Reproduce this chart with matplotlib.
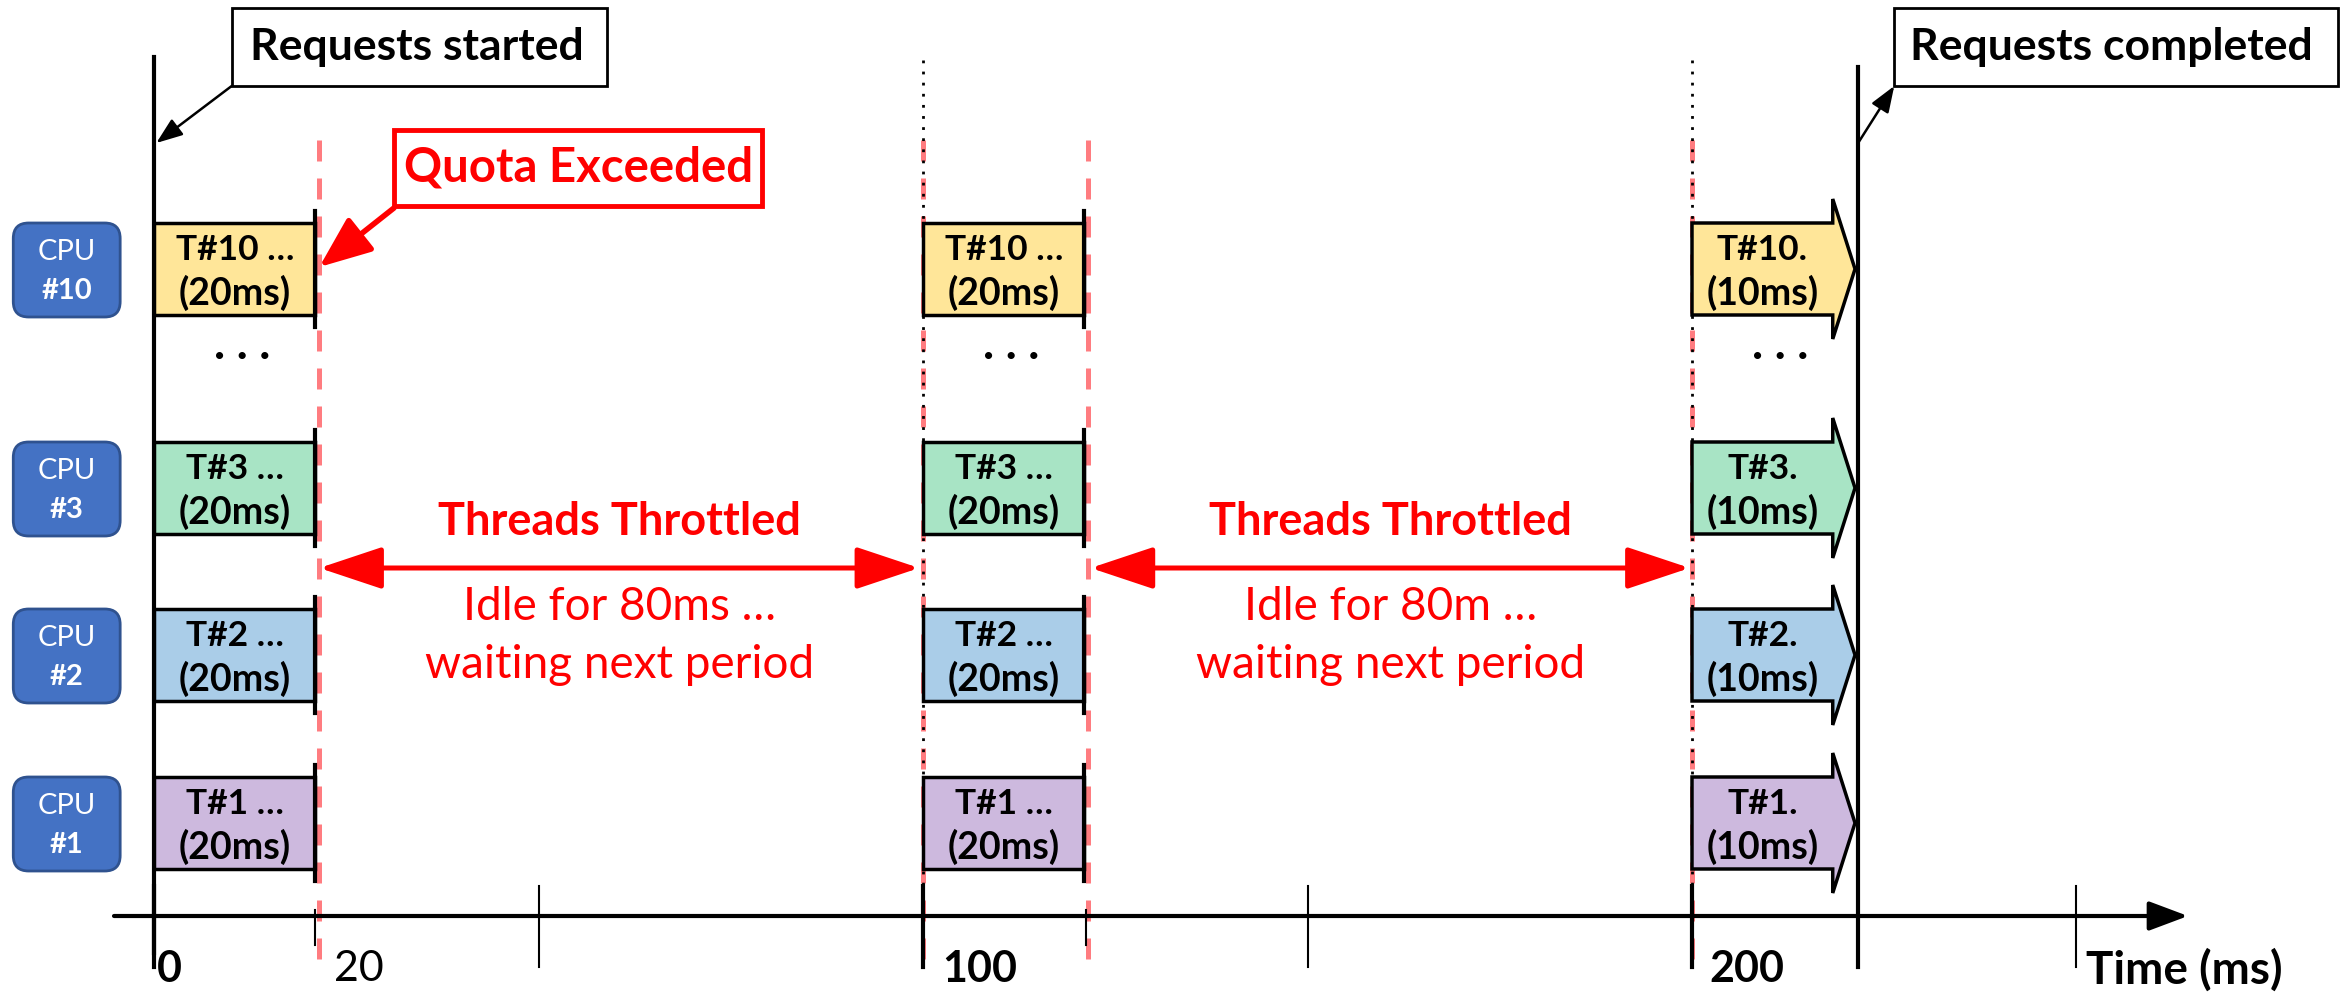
import matplotlib.pyplot as plt
from matplotlib.patches import Rectangle, FancyBboxPatch, Polygon, FancyArrowPatch

plt.rcParams['font.family'] = ['Lato', 'DejaVu Sans']

# ---- data ----
cpu_names = ['#10', '#3', '#2', '#1']
thread_names = ['T#10', 'T#3', 'T#2', 'T#1']
thread_colors = ['#FFE699', '#A8E4C5', '#AACDE8', '#CDB9DE']
period_starts = [0, 100, 200]
run_labels = ['(20ms)', '(20ms)', '(10ms)']
name_suffix = [' \u2026', ' \u2026', '.']
drawn_width = [21, 21, 18.3]         # width of body as drawn (ms)
quota_lines = [21.5, 121.5]
idle_labels = ['Idle for 80ms \u2026', 'Idle for 80m \u2026']
throttle_spans = [(21.5, 99.5), (121.8, 199.7)]
major_ticks = [0, 100, 200]
minor_ticks = [50, 150, 250]
small_ticks = [20.9, 121.2]
tick_labels = ['0', '20', '100', '200']
tick_label_pos = [0.4, 23.4, 102.5, 202.2]
tick_label_bold = [True, False, True, True]
start_ms = 0
end_ms = 221.6

# ---- layout (y in pixels from top, x in ms) ----
PX = 7.69                   # pixels per ms
X0 = 154                    # pixel of t=0
W, H = 2351, 992
row_tops = [223, 442, 609, 777]
row_h = 92
axis_y = 916
RED = '#FF0000'
PINK = '#FF7C80'

fig = plt.figure(figsize=(W / 100, H / 100), dpi=100)
ax = fig.add_axes([0, 0, 1, 1])
ax.set_xlim(-X0 / PX, (W - X0) / PX)
ax.set_ylim(H, 0)
ax.axis('off')

# vertical guide lines
for q in quota_lines + [100, 200]:
    ax.plot([q, q], [140, 965], color=PINK, lw=3.6, ls=(0, (4.2, 3.4)), zorder=1)
for p in period_starts[1:]:
    ax.plot([p, p], [60, 963], color='black', lw=2, ls=(0, (1, 3)), zorder=2)
ax.plot([start_ms, start_ms], [57, 953], color='black', lw=3, zorder=4)
ax.plot([end_ms, end_ms], [67, 967], color='black', lw=3, zorder=4)

# time axis
ax.annotate('', xy=(264.5, axis_y), xytext=(-5.2, axis_y),
            arrowprops=dict(arrowstyle='-|>,head_length=2.4,head_width=0.9',
                            mutation_scale=10, lw=3, color='black',
                            shrinkA=0, shrinkB=0))
for t in major_ticks:
    ax.plot([t, t], [886, 967], color='black', lw=3, zorder=4)
for t in minor_ticks:
    ax.plot([t, t], [886, 967], color='black', lw=1.5, zorder=4)
for t in small_ticks:
    ax.plot([t, t], [910, 945], color='black', lw=1.5, zorder=4)
for lab, x, b in zip(tick_labels, tick_label_pos, tick_label_bold):
    ax.text(x, 969, lab, ha='left', va='center', fontsize=31,
            fontweight='bold' if b else 'normal')
ax.text(251.2, 970, 'Time (ms)', ha='left', va='center', fontsize=33,
        fontweight='bold')

# CPU labels
for name, top in zip(cpu_names, row_tops):
    box = FancyBboxPatch((-18.3, top), 13.9, row_h + 2,
                         boxstyle='round,pad=0,rounding_size=2',
                         mutation_aspect=PX, fc='#4472C4', ec='#2F528F',
                         lw=2, zorder=3)
    ax.add_patch(box)
    ax.text(-11.35, top + 29, 'CPU', ha='center', va='center', color='white',
            fontsize=21)
    ax.text(-11.35, top + 68, name, ha='center', va='center', color='white',
            fontsize=21, fontweight='bold')

# thread blocks
for k, (p, w, lab, suf) in enumerate(zip(period_starts, drawn_width,
                                         run_labels, name_suffix)):
    for tname, col, top in zip(thread_names, thread_colors, row_tops):
        bot = top + row_h
        if k < 2:
            ax.add_patch(Rectangle((p, top), w, row_h, fc=col, ec='black',
                                   lw=2.5, zorder=5))
            ax.plot([p + w, p + w], [top - 12, bot + 12], color='black',
                    lw=3, zorder=6)
        else:
            mid = top + row_h / 2
            pts = [(p, top), (p + w, top), (p + w, mid - 70),
                   (end_ms - 0.4, mid), (p + w, mid + 70), (p + w, bot),
                   (p, bot)]
            ax.add_patch(Polygon(pts, closed=True, fc=col, ec='black',
                                 lw=2.5, zorder=5))
        ax.text(p + w / 2, top + 27, tname + suf, ha='center', va='center',
                fontsize=25.5, fontweight='bold', zorder=7)
        ax.text(p + w / 2, top + 70, lab, ha='center', va='center',
                fontsize=27, fontweight='bold', zorder=7)
    ax.text(p + 11.5, 345, '. . .', ha='center', va='center', fontsize=34,
            fontweight='bold')

# throttled arrows
for (a, b), idle in zip(throttle_spans, idle_labels):
    ax.add_patch(FancyArrowPatch((a, 568), (b, 568),
                                 arrowstyle='<|-|>,head_length=3.9,head_width=1.3',
                                 mutation_scale=10, lw=3.6, color=RED,
                                 shrinkA=0, shrinkB=0, zorder=6))
    c = (a + b) / 2
    ax.text(c, 522, 'Threads Throttled', ha='center', va='center', color=RED,
            fontsize=32.5, fontweight='bold')
    ax.text(c, 607, idle, ha='center', va='center', color=RED, fontsize=33)
    ax.text(c, 665, 'waiting next period', ha='center', va='center',
            color=RED, fontsize=33)

# callout boxes
ax.add_patch(Rectangle((10.1, 8), 48.8, 78, fc='white', ec='black', lw=2,
                       zorder=5))
ax.text(34.2, 47, 'Requests started', ha='center', va='center', fontsize=32,
        fontweight='bold', zorder=6)
ax.annotate('', xy=(start_ms + 0.3, 143), xytext=(10.1, 86),
            arrowprops=dict(arrowstyle='-|>,head_length=1.6,head_width=0.6',
                            mutation_scale=10, lw=1.8, color='black',
                            shrinkA=0, shrinkB=0))

ax.add_patch(Rectangle((226.3, 8), 57.7, 78, fc='white', ec='black', lw=2,
                       zorder=5))
ax.text(254.6, 47, 'Requests completed', ha='center', va='center',
        fontsize=32, fontweight='bold', zorder=6)
ax.annotate('', xy=(226.3, 86), xytext=(end_ms, 143),
            arrowprops=dict(arrowstyle='-|>,head_length=1.6,head_width=0.6',
                            mutation_scale=10, lw=1.8, color='black',
                            shrinkA=0, shrinkB=0))

ax.add_patch(Rectangle((31.2, 130), 47.9, 76, fc='white', ec=RED, lw=3.5,
                       zorder=5))
ax.text(55.15, 167, 'Quota Exceeded', ha='center', va='center', color=RED,
        fontsize=34, fontweight='bold', zorder=6)
ax.annotate('', xy=(quota_lines[0], 267), xytext=(31.2, 208),
            arrowprops=dict(arrowstyle='-|>,head_length=3.2,head_width=1.3',
                            mutation_scale=10, lw=4, color=RED,
                            shrinkA=0, shrinkB=0))

fig.savefig('out.png', dpi=100)
